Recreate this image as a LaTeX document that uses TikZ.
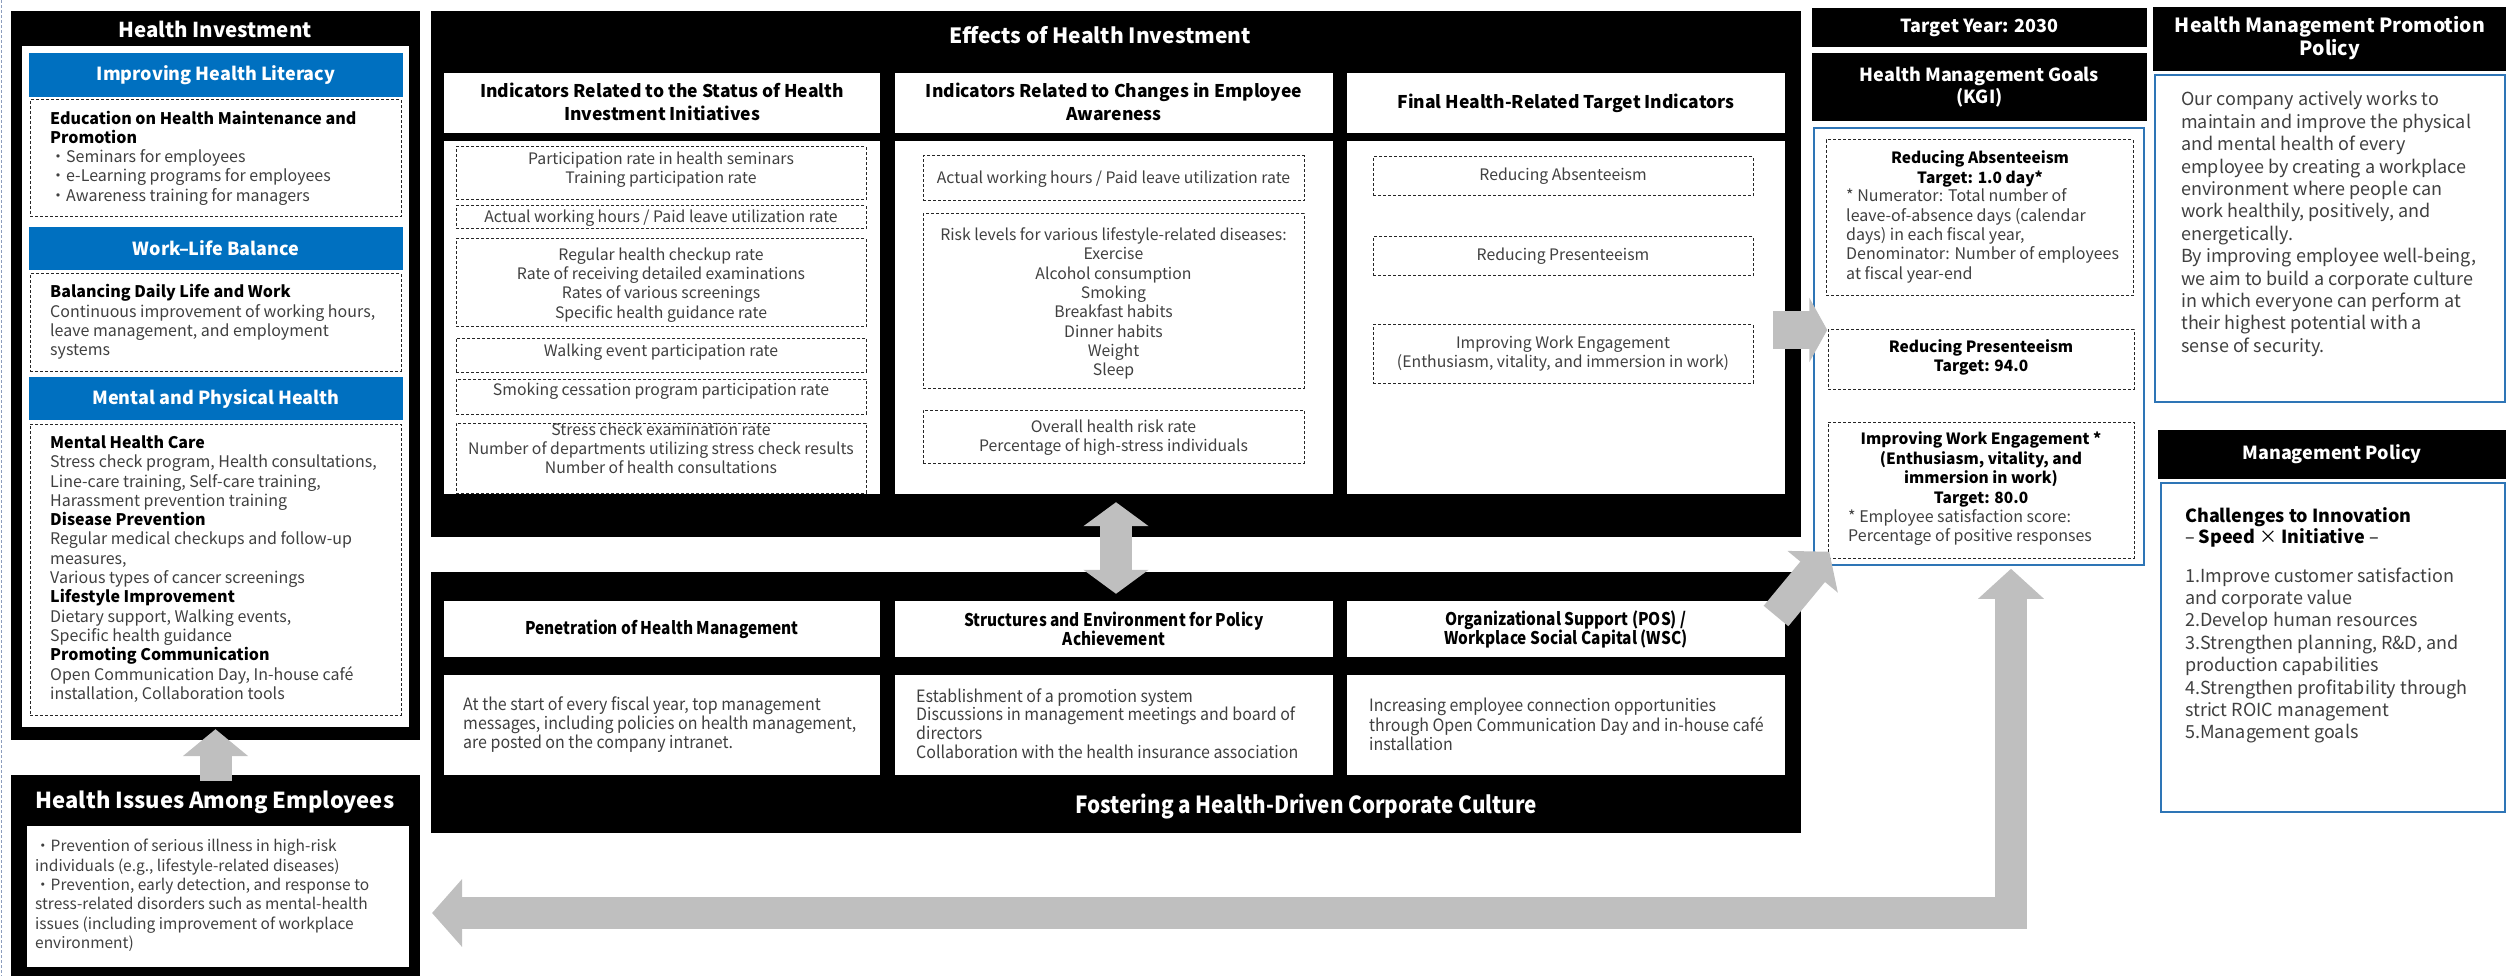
\documentclass[tikz,border=0pt]{standalone}
\usepackage{fontspec}
\setmainfont{Noto Sans CJK JP}
\newfontfamily\condfont[FakeStretch=0.88]{Noto Sans CJK JP}
\newfontfamily\narrowfont[FakeStretch=0.94]{Noto Sans CJK JP}
\usetikzlibrary{arrows.meta,fit,positioning}
\definecolor{headblue}{RGB}{0,112,192}
\definecolor{lineblue}{RGB}{46,117,182}
\definecolor{arrowgray}{RGB}{191,191,191}
\definecolor{textgray}{RGB}{64,64,64}
\definecolor{edgegray}{RGB}{140,158,190}
\newcommand\hd[1]{\textcolor{black}{\textbf{#1}}}

\begin{document}
\begin{tikzpicture}[x=1pt,y=-1pt,
  blackbox/.style={fill=black,inner sep=0pt},
  whitebox/.style={fill=white,inner sep=0pt},
  bluehead/.style={fill=headblue,inner sep=0pt},
  dashbox/.style={draw=black!85,line width=1pt,dash pattern=on 3pt off 2pt,inner sep=0pt},
  bluebox/.style={draw=lineblue,line width=1.5pt,fill=white,inner sep=0pt},
  blockarrow/.style={draw=arrowgray,line width=32pt},
  title/.style={text=white,inner sep=0pt,align=center,font=\bfseries\fontsize{20.5}{25}\selectfont},
  headtxt/.style={text=white,inner sep=0pt,align=center,font=\bfseries\fontsize{18}{22.5}\selectfont},
  colhead/.style={inner sep=0pt,align=center,font=\bfseries\fontsize{17.5}{23}\selectfont},
  bodytxt/.style={text=textgray,inner sep=0pt,align=left,font=\fontsize{16}{19.3}\selectfont},
  celltxt/.style={text=textgray,inner sep=0pt,align=center,font=\fontsize{15.8}{19.3}\selectfont},
  kgitxt/.style={inner sep=0pt,align=center,font=\bfseries\fontsize{15.5}{19.5}\selectfont},
  policytxt/.style={text=textgray,inner sep=0pt,align=left,font=\fontsize{18}{22.4}\selectfont},
  condhead/.style={inner sep=0pt,align=center,font=\condfont\bfseries\fontsize{17.5}{19}\selectfont},
  condtxt/.style={text=textgray,inner sep=0pt,align=left,font=\narrowfont\fontsize{17}{18.8}\selectfont}]
\useasboundingbox (0,0) rectangle (2506,976);
\draw[edgegray,line width=1.5pt,dash pattern=on 3pt off 2pt] (1.5,0) -- (1.5,976);

% health investment
\node[blackbox,fit={(11,11)(420,740)}] (invest) {};
\node[whitebox,fit={(22,46)(409,727)}] (investin) {};
\node[title] (investtitle) at (215,29) {Health Investment};
\node[bluehead,fit={(29,53)(403,97)}] (litrhead) {};
\node[headtxt] (litrtitle) at (litrhead) {Improving Health Literacy};
\node[dashbox,fit={(30,100)(401,217)}] (litrbox) {};
\node[bodytxt,anchor=west] (litrtxt) at (50,158) {\hd{Education on Health Maintenance and}\\\hd{Promotion}\\・Seminars for employees\\・e-Learning programs for employees\\・Awareness training for managers};
\node[bluehead,fit={(29,227)(403,270)}] (wlbhead) {};
\node[headtxt] (wlbtitle) at (wlbhead) {Work--Life Balance};
\node[dashbox,fit={(30,274)(401,371)}] (wlbbox) {};
\node[bodytxt,anchor=west] (wlbtxt) at (50,322) {\hd{Balancing Daily Life and Work}\\Continuous improvement of working hours,\\leave management, and employment\\systems};
\node[bluehead,fit={(29,377)(403,420)}] (mphhead) {};
\node[headtxt] (mphtitle) at (mphhead) {Mental and Physical Health};
\node[dashbox,fit={(30,424)(401,715)}] (mphbox) {};
\node[bodytxt,anchor=west] (mphtxt) at (50,569) {\hd{Mental Health Care}\\Stress check program, Health consultations,\\Line-care training, Self-care training,\\Harassment prevention training\\\hd{Disease Prevention}\\Regular medical checkups and follow-up\\measures,\\Various types of cancer screenings\\\hd{Lifestyle Improvement}\\Dietary support, Walking events,\\Specific health guidance\\\hd{Promoting Communication}\\Open Communication Day, In-house café\\installation, Collaboration tools};

% health issues
\node[blackbox,fit={(11,775)(420,976)}] (issues) {};
\node[title,font=\bfseries\fontsize{22}{26}\selectfont] (issuestitle) at (215,802) {Health Issues Among Employees};
\node[whitebox,fit={(27,826)(409,967)}] (issuesin) {};
\node[bodytxt,font=\fontsize{15.5}{19.4}\selectfont,anchor=west] (issuestxt) at (35,895.5) {・Prevention of serious illness in high-risk\\individuals (e.g., lifestyle-related diseases)\\・Prevention, early detection, and response to\\stress-related disorders such as mental-health\\issues (including improvement of workplace\\environment)};

% effects of health investment
\node[blackbox,fit={(431,11)(1801,537)}] (effects) {};
\node[title,font=\bfseries\fontsize{21}{26}\selectfont] (effectstitle) at (1100,35) {Effects of Health Investment};
\node[whitebox,fit={(444,73)(880,133)}] (stathead) {};
\node[whitebox,fit={(895,73)(1333,133)}] (awarhead) {};
\node[whitebox,fit={(1347,73)(1785,133)}] (finhead) {};
\node[colhead] (stattitle) at (662,102) {Indicators Related to the Status of Health\\Investment Initiatives};
\node[colhead] (awartitle) at (1114,102) {Indicators Related to Changes in Employee\\Awareness};
\node[colhead] (fintitle) at (1566,103) {Final Health-Related Target Indicators};
\node[whitebox,fit={(444,141)(880,494)}] (statbody) {};
\node[whitebox,fit={(895,141)(1333,494)}] (awarbody) {};
\node[whitebox,fit={(1347,141)(1785,494)}] (finbody) {};

\node[dashbox,fit={(456,147)(866,200)}] (s1) {};
\node[dashbox,fit={(456,206)(866,229)}] (s2) {};
\node[dashbox,fit={(456,239)(866,327)}] (s3) {};
\node[dashbox,fit={(456,338)(866,372)}] (s4) {};
\node[dashbox,fit={(456,379)(866,414)}] (s5) {};
\node[dashbox,fit={(456,423)(866,493)}] (s6) {};
\node[celltxt] (s1txt) at (661,169.5) {Participation rate in health seminars\\Training participation rate};
\node[celltxt] (s2txt) at (661,218) {Actual working hours / Paid leave utilization rate};
\node[celltxt] (s3txt) at (661,285) {Regular health checkup rate\\Rate of receiving detailed examinations\\Rates of various screenings\\Specific health guidance rate};
\node[celltxt] (s4txt) at (661,352) {Walking event participation rate};
\node[celltxt] (s5txt) at (661,391) {Smoking cessation program participation rate};
\node[celltxt] (s6txt) at (661,448.5) {Stress check examination rate\\Number of departments utilizing stress check results\\Number of health consultations};

\node[dashbox,fit={(923,156)(1304,201)}] (a1) {};
\node[dashbox,fit={(923,214)(1304,388)}] (a2) {};
\node[dashbox,fit={(923,410)(1304,463)}] (a3) {};
\node[celltxt] (a1txt) at (1113.5,179) {Actual working hours / Paid leave utilization rate};
\node[celltxt] (a2txt) at (1113.5,303.5) {Risk levels for various lifestyle-related diseases:\\Exercise\\Alcohol consumption\\Smoking\\Breakfast habits\\Dinner habits\\Weight\\Sleep};
\node[celltxt] (a3txt) at (1113.5,437.5) {Overall health risk rate\\Percentage of high-stress individuals};

\node[dashbox,fit={(1373,157)(1753,196)}] (f1) {};
\node[dashbox,fit={(1373,237)(1753,276)}] (f2) {};
\node[dashbox,fit={(1373,325)(1753,383)}] (f3) {};
\node[celltxt] (f1txt) at (1563,176) {Reducing Absenteeism};
\node[celltxt] (f2txt) at (1563,256) {Reducing Presenteeism};
\node[celltxt] (f3txt) at (1563,353.5) {Improving Work Engagement\\(Enthusiasm, vitality, and immersion in work)};

% goals (KGI)
\node[blackbox,fit={(1812,8)(2147,47)}] (year) {};
\node[headtxt] (yeartxt) at (year) {Target Year: 2030};
\node[blackbox,fit={(1812,53)(2147,121)}] (kgihead) {};
\node[headtxt] (kgititle) at (kgihead) {Health Management Goals\\(KGI)};
\node[bluebox,fit={(1814,128)(2144,565)}] (kgi) {};
\node[dashbox,fit={(1826,140)(2133,296)}] (k1) {};
\node[kgitxt] (k1head) at (1980,169) {Reducing Absenteeism\\Target: 1.0 day*};
\node[bodytxt,anchor=west] (k1txt) at (1846,236) {* Numerator: Total number of\\leave-of-absence days (calendar\\days) in each fiscal year,\\Denominator: Number of employees\\at fiscal year-end};
\node[dashbox,fit={(1828,330)(2134,389)}] (k2) {};
\node[kgitxt] (k2head) at (1981,357.5) {Reducing Presenteeism\\Target: 94.0};
\node[dashbox,fit={(1828,422)(2134,558)}] (k3) {};
\node[kgitxt] (k3head) at (1981,469.5) {Improving Work Engagement *\\(Enthusiasm, vitality, and\\immersion in work)\\Target: 80.0};
\node[bodytxt,anchor=west] (k3txt) at (1848,527.5) {* Employee satisfaction score:\\Percentage of positive responses};

% policies
\node[blackbox,fit={(2153,7)(2506,71)}] (policyhead) {};
\node[headtxt,font=\bfseries\fontsize{19.5}{23}\selectfont] (policytitle) at (2330,38) {Health Management Promotion\\Policy};
\node[bluebox,fit={(2155,75)(2505,402)}] (policy) {};
\node[policytxt,anchor=west] (policytext) at (2181,224) {Our company actively works to\\maintain and improve the physical\\and mental health of every\\employee by creating a workplace\\environment where people can\\work healthily, positively, and\\energetically.\\By improving employee well-being,\\we aim to build a corporate culture\\in which everyone can perform at\\their highest potential with a\\sense of security.};
\node[blackbox,fit={(2158,430)(2506,479)}] (mgmthead) {};
\node[headtxt] (mgmttitle) at (mgmthead) {Management Policy};
\node[bluebox,fit={(2161,483)(2505,812)}] (mgmt) {};
\node[policytxt,text=black,font=\fontsize{18}{21.5}\selectfont,anchor=west] (mgmtlead) at (2185,527.5) {\textbf{Challenges to Innovation}\\– \textbf{Speed} × \textbf{Initiative} –};
\node[policytxt,anchor=west] (mgmtlist) at (2185,655.5) {1.Improve customer satisfaction\\and corporate value\\2.Develop human resources\\3.Strengthen planning, R\&D, and\\production capabilities\\4.Strengthen profitability through\\strict ROIC management\\5.Management goals};

% corporate culture
\node[blackbox,fit={(431,572)(1801,833)}] (culture) {};
\node[whitebox,fit={(444,601)(880,657)}] (penhead) {};
\node[whitebox,fit={(895,601)(1333,657)}] (strhead) {};
\node[whitebox,fit={(1347,601)(1785,657)}] (orghead) {};
\node[condhead] (pentitle) at (penhead) {Penetration of Health Management};
\node[condhead] (strtitle) at (strhead) {Structures and Environment for Policy\\Achievement};
\node[condhead] (orgtitle) at (orghead) {Organizational Support (POS) /\\Workplace Social Capital (WSC)};
\node[whitebox,fit={(444,675)(880,775)}] (penbody) {};
\node[whitebox,fit={(895,675)(1333,775)}] (strbody) {};
\node[whitebox,fit={(1347,675)(1785,775)}] (orgbody) {};
\node[condtxt,anchor=west] (pentxt) at (463,724.5) {At the start of every fiscal year, top management\\messages, including policies on health management,\\are posted on the company intranet.};
\node[condtxt,anchor=west] (strtxt) at (916,723.5) {Establishment of a promotion system\\Discussions in management meetings and board of\\directors\\Collaboration with the health insurance association};
\node[condtxt,anchor=west] (orgtxt) at (1369,724) {Increasing employee connection opportunities\\through Open Communication Day and in-house café\\installation};
\node[condhead,text=white,font=\condfont\bfseries\fontsize{23.5}{27}\selectfont] (culturetitle) at (1306,807) {Fostering a Health-Driven Corporate Culture};

% arrows
\coordinate (rtail) at (1773,330);
\coordinate (dtail) at (1776,616);
\coordinate (lend) at (432,913);
\draw[blockarrow,-{Triangle[length=27pt,width=64pt]}] ([yshift=-6pt]issues.north) -- ([yshift=11pt]invest.south);
\draw[blockarrow,{Triangle[length=24pt,width=64pt]}-{Triangle[length=24pt,width=64pt]}] ([yshift=35pt]effects.south) -- ([yshift=-22pt]culture.north);
\draw[blockarrow,line width=38pt,-{Triangle[length=18pt,width=64pt]}] (rtail) -- ([xshift=14pt]rtail -| kgi.west);
\draw[blockarrow,-{Triangle[length=26pt,width=64pt]}] (dtail) -- ([xshift=16pt,yshift=14pt]kgi.south west);
\draw[blockarrow,line join=miter,{Triangle[length=30pt,width=66pt]}-{Triangle[length=30pt,width=64pt]}] (lend) -| ([xshift=32pt,yshift=-3pt]kgi.south);
\end{tikzpicture}
\end{document}
